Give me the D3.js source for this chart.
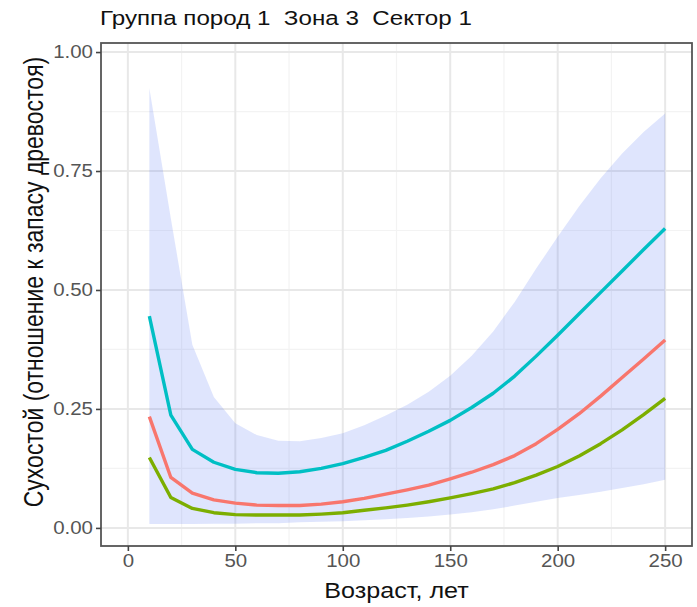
<!DOCTYPE html>
<html>
<head>
<meta charset="utf-8">
<script src="https://cdn.jsdelivr.net/npm/d3@7"></script>
<style>
  body { margin: 0; background: #fff; }
  text { font-family: "Liberation Sans", Arial, sans-serif; white-space: pre; }
</style>
</head>
<body>
<svg id="chart"></svg>
<script>
// ages (x values)
var ages = [10,20,30,40,50,60,70,80,90,100,110,120,130,140,150,160,170,180,190,200,210,220,230,240,250]

// series
var tealLine  = [0.445,0.237,0.165,0.138,0.123,0.116,0.115,0.118,0.125,0.135,0.148,0.163,0.182,0.203,0.226,0.253,0.283,0.319,0.361,0.405,0.450,0.495,0.540,0.585,0.629]
var redLine   = [0.234,0.106,0.073,0.059,0.052,0.048,0.047,0.047,0.050,0.055,0.062,0.071,0.080,0.090,0.103,0.117,0.133,0.152,0.177,0.207,0.240,0.277,0.316,0.355,0.395]
var greenLine = [0.148,0.064,0.041,0.032,0.028,0.027,0.027,0.027,0.029,0.032,0.037,0.042,0.048,0.055,0.063,0.072,0.082,0.095,0.111,0.129,0.151,0.177,0.206,0.238,0.272]
var bandUpper = [0.924,0.650,0.385,0.275,0.220,0.195,0.183,0.182,0.189,0.199,0.216,0.236,0.259,0.286,0.320,0.362,0.413,0.475,0.545,0.612,0.676,0.735,0.787,0.832,0.871]
var bandLower = [0.008,0.008,0.008,0.009,0.009,0.010,0.010,0.012,0.013,0.014,0.016,0.018,0.021,0.024,0.028,0.033,0.039,0.047,0.055,0.063,0.069,0.076,0.084,0.092,0.101]

var xTicks = [0,50,100,150,200,250]
var xMinor = [25,75,125,175,225]
var yTicks = [0,0.25,0.5,0.75,1]
var yMinor = [0.125,0.375,0.625,0.875]

var titleText = "Группа пород 1  Зона 3  Сектор 1"
var xTitle = "Возраст, лет"
var yTitle = "Сухостой (отношение к запасу древостоя)"

var screen = {width:697,height:607}
var panel = {left:101,right:692,top:43,bottom:546}
//the reference text is a little wider than tall
var stretch = 1.17

var svg = d3.select("#chart")
    .attr("width",screen.width)
    .attr("height",screen.height)

var xScale = d3.scaleLinear()
    .domain([-12.5,262.5])
    .range([panel.left,panel.right])

var yScale = d3.scaleLinear()
    .domain([-0.038,1.019])
    .range([panel.bottom,panel.top])

//grid lines, minor first then major
var grid = svg.append("g")
grid.selectAll(".xminor").data(xMinor).enter().append("line")
    .attr("x1",function(d){return xScale(d)}).attr("x2",function(d){return xScale(d)})
    .attr("y1",panel.top).attr("y2",panel.bottom)
    .attr("stroke","#f3f3f3").attr("stroke-width",1.2)
grid.selectAll(".yminor").data(yMinor).enter().append("line")
    .attr("y1",function(d){return yScale(d)}).attr("y2",function(d){return yScale(d)})
    .attr("x1",panel.left).attr("x2",panel.right)
    .attr("stroke","#f3f3f3").attr("stroke-width",1.2)
grid.selectAll(".xmajor").data(xTicks).enter().append("line")
    .attr("x1",function(d){return xScale(d)}).attr("x2",function(d){return xScale(d)})
    .attr("y1",panel.top).attr("y2",panel.bottom)
    .attr("stroke","#e8e8e8").attr("stroke-width",2)
grid.selectAll(".ymajor").data(yTicks).enter().append("line")
    .attr("y1",function(d){return yScale(d)}).attr("y2",function(d){return yScale(d)})
    .attr("x1",panel.left).attr("x2",panel.right)
    .attr("stroke","#e8e8e8").attr("stroke-width",2)

//confidence band
var area = d3.area()
    .x(function(d,i){return xScale(ages[i])})
    .y0(function(d,i){return yScale(bandLower[i])})
    .y1(function(d){return yScale(d)})

svg.append("path")
    .datum(bandUpper)
    .attr("d",area)
    .attr("fill","#4d6ff5")
    .attr("fill-opacity",0.18)

//lines
var line = d3.line()
    .x(function(d,i){return xScale(ages[i])})
    .y(function(d){return yScale(d)})

var series = [
    {values:greenLine,color:"#7CAE00"},
    {values:redLine,color:"#F8766D"},
    {values:tealLine,color:"#00BFC4"}
]
svg.selectAll(".series").data(series).enter().append("path")
    .attr("d",function(s){return line(s.values)})
    .attr("fill","none")
    .attr("stroke",function(s){return s.color})
    .attr("stroke-width",3.4)
    .attr("stroke-linejoin","round")

//panel border
svg.append("rect")
    .attr("x",panel.left).attr("y",panel.top)
    .attr("width",panel.right-panel.left).attr("height",panel.bottom-panel.top)
    .attr("fill","none").attr("stroke","#555").attr("stroke-width",1.8)

//axes
var xAxis = d3.axisBottom(xScale).tickValues(xTicks).tickSize(5).tickPadding(4)
var gx = svg.append("g")
    .attr("transform","translate(0,"+panel.bottom+")")
    .call(xAxis)
var yAxis = d3.axisLeft(yScale).tickValues(yTicks).tickSize(5).tickPadding(4)
    .tickFormat(d3.format(".2f"))
var gy = svg.append("g")
    .attr("transform","translate("+panel.left+",0)")
    .call(yAxis)

gx.select(".domain").remove()
gy.select(".domain").remove()
svg.selectAll(".tick line").attr("stroke","#444").attr("stroke-width",1.6)
svg.selectAll(".tick text")
    .attr("fill","#555")
    .style("font-size","17.5px")
    .style("font-family","'Liberation Sans', Arial, sans-serif")
gx.selectAll(".tick text").attr("transform","scale("+stretch+",1)")
gy.selectAll(".tick text").attr("x",-8/stretch).attr("transform","scale("+stretch+",1)")

//labels
svg.append("g")
    .attr("transform","translate(100,25) scale(1.24,1)")
    .append("text")
    .text(titleText)
    .style("font-size","19.5px")
    .attr("fill","#111")

svg.append("g")
    .attr("transform","translate("+((panel.left+panel.right)/2)+",598) scale("+stretch+",1)")
    .append("text")
    .text(xTitle)
    .attr("text-anchor","middle")
    .style("font-size","21.5px")
    .attr("fill","#111")

svg.append("g")
    .attr("transform","translate(43,282) scale("+stretch+",1)")
    .append("text")
    .text(yTitle)
    .attr("text-anchor","middle")
    .attr("transform","rotate(-90)")
    .style("font-size","23px")
    .attr("fill","#111")
</script>
</body>
</html>
